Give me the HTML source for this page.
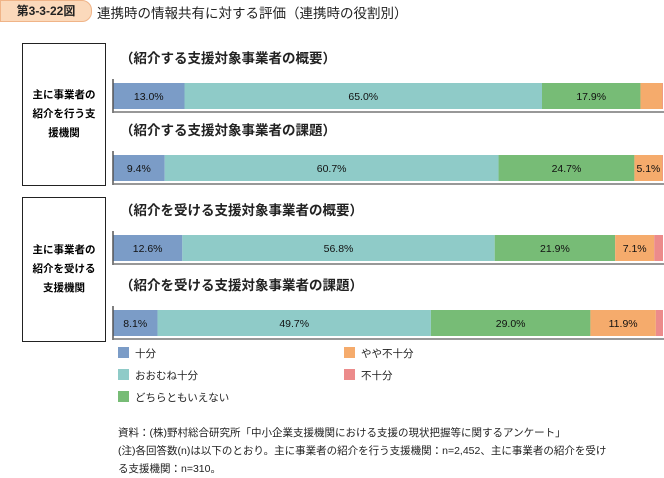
<!DOCTYPE html>
<html><head><meta charset="utf-8"><style>
body{margin:0;width:664px;height:474px;background:#fff;font-family:"Liberation Sans","Noto Sans CJK JP",sans-serif;overflow:hidden;position:relative}
.a{position:absolute}
</style></head><body>
<div class="a" style="left:0;top:0;width:90px;height:20px;background:#fbd9bb;border:1px solid #f0b488;border-radius:0 10px 10px 0;font-size:12px;line-height:20px;text-align:center;font-weight:bold;color:#222">第3-3-22図</div>
<div class="a" style="left:97px;top:2px;font-size:13.5px;color:#222">連携時の情報共有に対する評価（連携時の役割別）</div>
<div class="a" style="left:22px;top:43px;width:82px;height:141px;border:1.5px solid #222;font-size:10.5px;font-weight:bold;display:flex;align-items:center;justify-content:center;text-align:center;line-height:19px">主に事業者の<br>紹介を行う支<br>援機関</div>
<div class="a" style="left:22px;top:197px;width:82px;height:143px;border:1.5px solid #222;font-size:10.5px;font-weight:bold;display:flex;align-items:center;justify-content:center;text-align:center;line-height:19px">主に事業者の<br>紹介を受ける<br>支援機関</div>
<svg class="a" style="left:0;top:0" width="664" height="474"></svg>
<div class="a" style="left:118px;top:424px;font-size:10.5px;line-height:18px;color:#222">資料：(株)野村総合研究所「中小企業支援機関における支援の現状把握等に関するアンケート」<br>(注)各回答数(n)は以下のとおり。主に事業者の紹介を行う支援機関：n=2,452、主に事業者の紹介を受け<br>る支援機関：n=310。</div>
<script>
const categories=["（紹介する支援対象事業者の概要）","（紹介する支援対象事業者の課題）","（紹介を受ける支援対象事業者の概要）","（紹介を受ける支援対象事業者の課題）"];
const seriesNames=["十分","おおむね十分","どちらともいえない","やや不十分","不十分"];
const s1=[13.0,9.4,12.6,8.1];
const s2=[65.0,60.7,56.8,49.7];
const s3=[17.9,24.7,21.9,29.0];
const s4=[4.0,5.1,7.1,11.9];
const s5=[0.1,0.1,1.6,1.3];
const series=[s1,s2,s3,s4,s5];
const colors=["#7b9cc7","#8fcbc8","#77bc76","#f5ab6c","#ec8b8b"];
const NS="http://www.w3.org/2000/svg";
const svg=document.querySelector('svg');
const x0=113,scale=5.5,rowTops=[83,155,235,310],bh=26;
const xp=v=>x0+v*scale;
function mk(t,a){const e=document.createElementNS(NS,t);for(const k in a)e.setAttribute(k,a[k]);svg.appendChild(e);return e;}
categories.forEach((c,i)=>{
  const y=rowTops[i];
  const t=mk('text',{x:120,y:y-20,'font-size':13.5,'font-weight':'bold',fill:'#222'});
  t.textContent=c;
  
  
  let acc=0;
  series.forEach((s,j)=>{
    const v=s[i];
    const r=mk('rect',{x:xp(acc),y:y,width:v*scale,height:bh,fill:colors[j]});
    
    
    if(v>=4.5){
      const l=mk('text',{x:xp(acc+v/2),y:y+17,'font-size':10.5,'text-anchor':'middle',fill:'#111'});
      l.textContent=v.toFixed(1)+'%';
      
      
    }
    acc+=v;
  });
  const ax=mk('line',{x1:x0,x2:x0,y1:y-4,y2:y+bh+4,stroke:'#555','stroke-width':1.5});
  
  
  const bl=mk('line',{x1:x0,x2:664,y1:y+bh+3,y2:y+bh+3,stroke:'#777','stroke-width':1.5});
  
  
});
const legPos=[[118,356],[118,378],[118,400],[344,356],[344,378]];
seriesNames.forEach((n,j)=>{
  const [lx,ly]=legPos[j];
  const r=mk('rect',{x:lx,y:ly-9,width:11,height:11,fill:colors[j]});
  
  
  const t=mk('text',{x:lx+17,y:ly+1,'font-size':10.5,fill:'#222'});
  t.textContent=n;
  
  
});
</script>
</body></html>
